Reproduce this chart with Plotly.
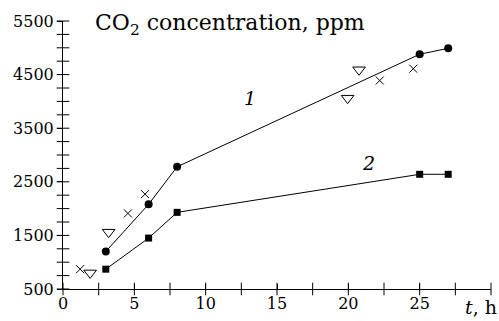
import plotly.graph_objects as go

# Series 1 (circles, connected)
s1_t = [3, 6, 8, 25, 27]
s1_c = [1200, 2080, 2780, 4880, 4990]
# Series 2 (squares, connected)
s2_t = [3, 6, 8, 25, 27]
s2_c = [870, 1450, 1930, 2640, 2640]
# Crosses
x_t = [1.2, 4.55, 5.75, 22.2, 24.55]
x_c = [870, 1910, 2270, 4390, 4610]
# Open triangles
tri_t = [1.9, 3.2, 19.95, 20.75]
tri_c = [800, 1560, 4060, 4590]

# Axis ranges, tick positions and labels
x_range = [0, 30]
y_range = [500, 5500]
xtick_vals = [0, 5, 10, 15, 20, 25]
ytick_vals = [500, 1500, 2500, 3500, 4500, 5500]
xminor_vals = [2.5, 7.5, 12.5, 17.5, 22.5, 27.5, 30]
yminor_vals = [750, 1000, 1250, 1750, 2000, 2250, 2750, 3000, 3250,
               3750, 4000, 4250, 4750, 5000, 5250]

FONT = "DejaVu Serif"

fig = go.Figure()
fig.add_trace(go.Scatter(x=s1_t, y=s1_c, mode="lines+markers",
                         line=dict(color="black", width=1),
                         marker=dict(symbol="circle", size=8, color="black"),
                         cliponaxis=False, showlegend=False))
fig.add_trace(go.Scatter(x=s2_t, y=s2_c, mode="lines+markers",
                         line=dict(color="black", width=1),
                         marker=dict(symbol="square", size=7, color="black"),
                         cliponaxis=False, showlegend=False))
fig.add_trace(go.Scatter(x=x_t, y=x_c, mode="markers",
                         marker=dict(symbol="x-thin-open", size=8, color="black",
                                     line=dict(color="black", width=1)),
                         cliponaxis=False, showlegend=False))
fig.add_trace(go.Scatter(x=tri_t, y=tri_c, mode="markers",
                         marker=dict(symbol="triangle-down-open", size=11,
                                     color="black", line=dict(color="black", width=1)),
                         cliponaxis=False, showlegend=False))

# tick marks along the axes, drawn as short line markers on the axis lines
xt_all = xtick_vals + xminor_vals
yt_all = ytick_vals + yminor_vals
fig.add_trace(go.Scatter(x=xt_all, y=[y_range[0]] * len(xt_all), mode="markers",
                         marker=dict(symbol="line-ns-open", size=9, color="black",
                                     line=dict(color="black", width=1)),
                         cliponaxis=False, showlegend=False, hoverinfo="skip"))
fig.add_trace(go.Scatter(x=[x_range[0]] * len(yt_all), y=yt_all, mode="markers",
                         marker=dict(symbol="line-ew-open", size=9, color="black",
                                     line=dict(color="black", width=1)),
                         cliponaxis=False, showlegend=False, hoverinfo="skip"))

fig.update_layout(
    width=499, height=321,
    margin=dict(l=63, r=8, t=21, b=32),
    paper_bgcolor="white", plot_bgcolor="white",
    font=dict(family=FONT, size=16, color="black"),
    xaxis=dict(range=x_range, showgrid=False, zeroline=False,
               showline=True, linecolor="black", linewidth=1,
               ticks="inside", ticklen=5, tickwidth=1, tickcolor="black",
               tickvals=xtick_vals,
               tickfont=dict(family=FONT, size=16)),
    yaxis=dict(range=y_range, showgrid=False, zeroline=False,
               showline=True, linecolor="black", linewidth=1,
               ticks="outside", ticklen=5, tickwidth=1, tickcolor="black",
               tickvals=ytick_vals,
               tickfont=dict(family=FONT, size=16)),
    annotations=[
        dict(text="CO<sub>2</sub> concentration, ppm", xref="paper", yref="paper",
             x=0.07, y=1, xanchor="left", yanchor="middle", yshift=-3, showarrow=False,
             font=dict(family=FONT, size=22)),
        dict(text="<i>t</i>, h", xref="paper", yref="paper", x=1, y=0,
             xanchor="right", yanchor="top", xshift=8, yshift=-5, showarrow=False,
             font=dict(family=FONT, size=19)),
        dict(text="<i>1</i>", x=13.1, y=4060, showarrow=False,
             font=dict(family=FONT, size=19)),
        dict(text="<i>2</i>", x=21.4, y=2850, showarrow=False,
             font=dict(family=FONT, size=19)),
    ],
)

fig.write_html("out.html", config={"displayModeBar": False})

# remove the default page margin so the figure fills the window exactly
with open("out.html", "r", encoding="utf-8") as f:
    html = f.read()
html = html.replace("<head>", "<head><style>html,body{margin:0;padding:0;overflow:hidden;}</style>", 1)
with open("out.html", "w", encoding="utf-8") as f:
    f.write(html)
